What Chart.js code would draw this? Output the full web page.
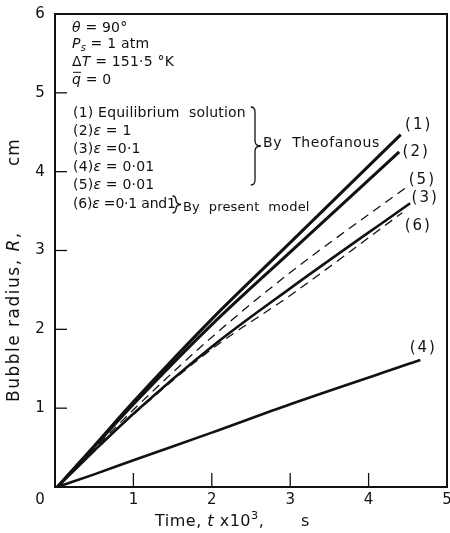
<!DOCTYPE html>
<html>
<head>
<meta charset="utf-8">
<script src="https://cdn.jsdelivr.net/npm/chart.js@4.4.1/dist/chart.umd.min.js"></script>
<style>
  html, body { margin: 0; padding: 0; background: #fff; }
  #wrap { width: 450px; height: 533px; }
</style>
</head>
<body>
<div id="wrap"><canvas id="radius-chart" width="450" height="533"></canvas></div>
<script>
// Bubble radius R (cm) against time t x10^3 (s)
const xTicks = [0, 1, 2, 3, 4, 5];
const yTicks = [0, 1, 2, 3, 4, 5, 6];
const curveLabels = ["(1)", "(2)", "(3)", "(4)", "(5)", "(6)"];

// (1) equilibrium solution
const t1 = [0.03, 0.5, 1, 2, 3, 4.41];
const r1 = [0, 0.52, 1.08, 2.13, 3.1, 4.47];
// (2) eps = 1
const t2 = [0.03, 0.5, 1, 2, 3, 4.39];
const r2 = [0, 0.51, 1.05, 2.06, 2.98, 4.25];
// (3) eps = 0.1
const t3 = [0.03, 0.5, 1, 2, 3, 4.53];
const r3 = [0, 0.46, 0.93, 1.78, 2.52, 3.6];
// (4) eps = 0.01
const t4 = [0.03, 0.5, 1, 2, 3, 4.66];
const r4 = [0, 0.16, 0.34, 0.69, 1.05, 1.61];
// (5) eps = 0.01, present model
const t5 = [0.03, 0.5, 1, 2, 3, 4.52];
const r5 = [0, 0.48, 0.98, 1.9, 2.72, 3.83];
// (6) eps = 0.1 and 1, present model
const t6 = [0.03, 0.5, 1, 2, 3, 4.43];
const r6 = [0, 0.46, 0.92, 1.75, 2.43, 3.48];

const ink = "#111";
const FONT = "'DejaVu Sans', sans-serif";

const pts = (ts, rs) => ts.map((t, i) => ({ x: t, y: rs[i] }));

function curve(ts, rs, width, dashed) {
  return {
    data: pts(ts, rs),
    borderColor: ink,
    borderWidth: width,
    borderDash: dashed ? [9, 6] : [],
    pointRadius: 0,
    cubicInterpolationMode: "monotone",
    fill: false,
  };
}

// label offsets from each curve's last point
const labelOffsets = [[18, -10], [17, 0], [15, -5], [3, -12], [13, -5], [16, 13]];

// draw a run of text pieces: {t, i: italic, s: subscript, o: overline, up: superscript}
function runs(ctx, x, y, list, size, spacing) {
  ctx.textBaseline = "middle";
  ctx.textAlign = "left";
  ctx.letterSpacing = (spacing || 0) + "px";
  list.forEach((p) => {
    const sz = p.s || p.up ? size * 0.7 : size;
    ctx.font = (p.i ? "italic " : "") + sz + "px " + FONT;
    const dy = p.s ? size * 0.3 : p.up ? -size * 0.4 : 0;
    ctx.fillText(p.t, x, y + dy);
    const w = ctx.measureText(p.t).width;
    if (p.o) {
      ctx.lineWidth = 1;
      ctx.beginPath();
      ctx.moveTo(x + 1, y - size * 0.55);
      ctx.lineTo(x + w, y - size * 0.55);
      ctx.stroke();
    }
    x += w;
  });
  ctx.letterSpacing = "0px";
}

function brace(ctx, x, top, bottom, tip) {
  const mid = (top + bottom) / 2;
  ctx.lineWidth = 1.3;
  ctx.beginPath();
  ctx.moveTo(x - tip * 0.7, top);
  ctx.quadraticCurveTo(x, top, x, top + 5);
  ctx.lineTo(x, mid - 5);
  ctx.quadraticCurveTo(x, mid, x + tip, mid);
  ctx.quadraticCurveTo(x, mid, x, mid + 5);
  ctx.lineTo(x, bottom - 5);
  ctx.quadraticCurveTo(x, bottom, x - tip * 0.7, bottom);
  ctx.stroke();
}

const frame = {
  id: "frame",
  afterDatasetsDraw(chart) {
    const { ctx, chartArea: a, scales: { x, y } } = chart;
    ctx.save();
    ctx.strokeStyle = ink;
    ctx.fillStyle = ink;

    // box
    ctx.lineWidth = 2;
    ctx.strokeRect(a.left, a.top, a.right - a.left, a.bottom - a.top);

    // inward ticks
    ctx.lineWidth = 1.3;
    yTicks.slice(1, -1).forEach((v) => {
      const py = y.getPixelForValue(v);
      ctx.beginPath();
      ctx.moveTo(a.left, py);
      ctx.lineTo(a.left + 12, py);
      ctx.stroke();
    });
    xTicks.slice(1, -1).forEach((v) => {
      const px = x.getPixelForValue(v);
      ctx.beginPath();
      ctx.moveTo(px, a.bottom);
      ctx.lineTo(px, a.bottom - 14);
      ctx.stroke();
    });

    // tick labels
    ctx.font = "15px " + FONT;
    ctx.textAlign = "center";
    ctx.textBaseline = "middle";
    yTicks.slice(1).forEach((v) => {
      ctx.fillText(String(v), a.left - 15, y.getPixelForValue(v));
    });
    xTicks.forEach((v) => {
      const px = x.getPixelForValue(v) - (v === 0 ? 15 : 0);
      ctx.fillText(String(v), px, a.bottom + 13);
    });

    // axis titles
    runs(ctx, 155, 522, [{ t: "Time, " }, { t: "t", i: 1 }, { t: " x10" }, { t: "3", up: 1 }, { t: "," }], 16, 0.5);
    runs(ctx, 301, 522, [{ t: "s" }], 16);
    ctx.save();
    ctx.translate(15, 0);
    ctx.rotate(-Math.PI / 2);
    runs(ctx, -402, 0, [{ t: "Bubble radius, " }, { t: "R", i: 1 }, { t: "," }], 17, 1.5);
    runs(ctx, -166, 0, [{ t: "cm" }], 17, 1);
    ctx.restore();

    // conditions
    const fs = 14;
    const sp = 0.2;
    runs(ctx, 72, 28, [{ t: "θ", i: 1 }, { t: " = 90°" }], fs, sp);
    runs(ctx, 72, 44, [{ t: "P", i: 1 }, { t: "s", i: 1, s: 1 }, { t: " = 1 atm" }], fs, sp);
    runs(ctx, 72, 62, [{ t: "Δ" }, { t: "T", i: 1 }, { t: " = 151·5 °K" }], fs, sp);
    runs(ctx, 72, 80, [{ t: "q", i: 1, o: 1 }, { t: " = 0" }], fs, sp);

    // curve key
    const eps = { t: "ε", i: 1 };
    runs(ctx, 73, 113, [{ t: "(1) Equilibrium  solution" }], fs, sp);
    runs(ctx, 73, 131, [{ t: "(2)" }, eps, { t: " = 1" }], fs, sp);
    runs(ctx, 73, 149, [{ t: "(3)" }, eps, { t: " =0·1" }], fs, sp);
    runs(ctx, 73, 167, [{ t: "(4)" }, eps, { t: " = 0·01" }], fs, sp);
    runs(ctx, 73, 185, [{ t: "(5)" }, eps, { t: " = 0·01" }], fs, sp);
    runs(ctx, 73, 204, [{ t: "(6)" }, eps, { t: " =0·1 and1" }], fs, -0.2);
    brace(ctx, 255, 107, 185, 6);
    runs(ctx, 263, 143, [{ t: "By  Theofanous" }], fs, 0.6);
    brace(ctx, 176, 196, 213, 5);
    runs(ctx, 183, 208, [{ t: "By  present  model" }], 13, 0.2);

    // curve end labels
    ctx.font = "15px " + FONT;
    ctx.letterSpacing = "2px";
    ctx.textAlign = "center";
    chart.data.datasets.forEach((ds, i) => {
      const pts = chart.getDatasetMeta(i).data;
      const end = pts[pts.length - 1];
      const [dx, dy] = labelOffsets[i];
      ctx.fillText(curveLabels[i], end.x + dx, end.y + dy);
    });
    ctx.restore();
  },
};

// axes take no room of their own; everything outside the box is drawn by the plugin
const flat = (s) => { if (s.isHorizontal()) s.height = 0; else s.width = 0; };

new Chart(document.getElementById("radius-chart"), {
  type: "line",
  data: {
    datasets: [
      curve(t1, r1, 3, false),
      curve(t2, r2, 3, false),
      curve(t3, r3, 2.6, false),
      curve(t4, r4, 2.6, false),
      curve(t5, r5, 1.3, true),
      curve(t6, r6, 1.3, true),
    ],
  },
  options: {
    responsive: false,
    animation: false,
    layout: { padding: { left: 55, right: 3, top: 14, bottom: 46 } },
    plugins: { legend: { display: false }, tooltip: { enabled: false } },
    scales: {
      x: {
        type: "linear", min: 0, max: 5,
        ticks: { display: false },
        grid: { display: false },
        border: { display: false },
        afterFit: flat,
      },
      y: {
        type: "linear", min: 0, max: 6,
        ticks: { display: false },
        grid: { display: false },
        border: { display: false },
        afterFit: flat,
      },
    },
  },
  plugins: [frame],
});
</script>
</body>
</html>
